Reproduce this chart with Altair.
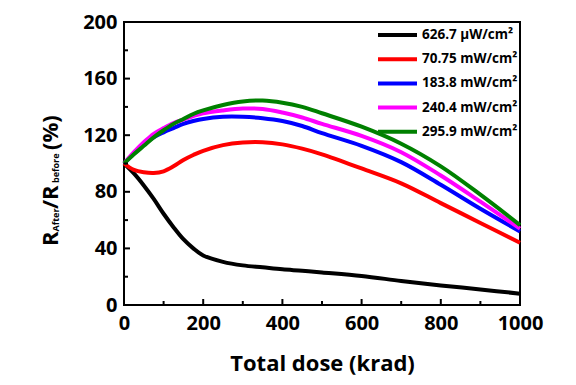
import altair as alt
import pandas as pd

# ---- data ----
dose = [0, 25, 50, 75, 100, 125, 150, 175, 200, 250, 300, 350, 400, 450, 500, 600, 700, 800, 900, 1000]

series_names = ["626.7 μW/cm²", "70.75 mW/cm²", "183.8 mW/cm²", "240.4 mW/cm²", "295.9 mW/cm²"]
series_colors = ["#000000", "#ff0000", "#0000ff", "#ff00ff", "#008000"]

black_vals = [100, 93, 84.5, 75, 64.5, 55, 46.5, 40, 35, 30.5, 28, 26.6, 25.2, 24.2, 23, 20.5, 17, 13.8, 11, 8]
red_vals = [100, 95.5, 93.8, 93.3, 94.5, 98, 102.5, 106, 109, 113, 114.8, 115, 113.5, 110.5, 106.5, 96.5, 86, 72, 58, 44]
blue_vals = [100, 107, 113.5, 118.5, 122, 125, 128, 130, 131.5, 133, 133, 132, 130, 126.5, 121.5, 112.5, 101, 85, 68, 52]
magenta_vals = [100, 108, 115, 121, 125, 128.5, 131, 133.5, 135.5, 137.5, 138.8, 138.5, 136, 132.5, 128, 119.5, 108, 91.5, 73, 54]
green_vals = [100, 106.5, 112.5, 118.5, 123.5, 128, 131.5, 135, 137.5, 141.3, 143.8, 144.5, 143, 140, 135.5, 126, 114, 98, 78, 56.5]

x_major = [0, 200, 400, 600, 800, 1000]
x_minor = [100, 300, 500, 700, 900]
y_major = [0, 40, 80, 120, 160, 200]
y_minor = [20, 60, 100, 140, 180]

all_vals = [black_vals, red_vals, blue_vals, magenta_vals, green_vals]
rows = []
for i, (name, vals) in enumerate(zip(series_names, all_vals)):
    for d, v in zip(dose, vals):
        rows.append({"dose": d, "ratio": v, "series": name, "idx": i})
df = pd.DataFrame(rows)

legend_df = pd.DataFrame({"name": series_names, "color": series_colors, "idx": list(range(len(series_names)))})

W, H = 396, 283
FONT = "Open Sans"
xs = alt.Scale(domain=[0, 1000], nice=False)
ys = alt.Scale(domain=[0, 200], nice=False)
x_axis = alt.Axis(values=x_major, title="Total dose (krad)", format="d", labelPadding=8,
                  titlePadding=20, labelFlush=False, labelOverlap=False)
y_axis = alt.Axis(values=y_major, title=None, format="d", labelPadding=7,
                  labelFlush=False, labelOverlap=False)

lines = alt.Chart(df).mark_line(strokeWidth=4, interpolate="catmull-rom").encode(
    x=alt.X("dose:Q", scale=xs, axis=x_axis),
    y=alt.Y("ratio:Q", scale=ys, axis=y_axis),
    color=alt.Color("series:N", scale=alt.Scale(domain=series_names, range=series_colors), legend=None),
    order=alt.Order("idx:Q"),
)

def xticks(vals, length):
    return alt.Chart(pd.DataFrame({"dose": vals})).mark_rule(color="black", strokeWidth=2).encode(
        x=alt.X("dose:Q", scale=xs, axis=x_axis), y=alt.value(H), y2=alt.value(H - length))

def yticks(vals, length):
    return alt.Chart(pd.DataFrame({"ratio": vals})).mark_rule(color="black", strokeWidth=2).encode(
        y=alt.Y("ratio:Q", scale=ys, axis=y_axis), x=alt.value(0), x2=alt.value(length))

leg_base = alt.Chart(legend_df).transform_calculate(ly="13 + 24.2 * datum.idx")
leg_lines = leg_base.mark_rule(strokeWidth=4).encode(
    x=alt.value(254), x2=alt.value(293),
    y=alt.Y("ly:Q", scale=None),
    color=alt.Color("color:N", scale=None),
)
leg_text = leg_base.mark_text(align="left", baseline="middle", font=FONT, fontSize=13.5,
                              fontWeight="bold", color="black").encode(
    x=alt.value(298), y=alt.Y("ly:Q", scale=None), text="name:N")

one = pd.DataFrame({"a": [0]})
def ytitle(txt, ypos, size, xpos):
    return alt.Chart(one).mark_text(angle=270, align="left", baseline="alphabetic", font=FONT,
                                    fontSize=size, fontWeight="bold", color="black").encode(
        x=alt.value(xpos), y=alt.value(ypos), text=alt.value(txt))

title_layers = [
    ytitle("R", 224, 22, -66),
    ytitle("After", 209.5, 9, -65),
    ytitle("/R", 187, 22, -66),
    ytitle("before", 161, 9, -65),
    ytitle("(%)", 128, 22, -66),
]

chart = alt.layer(
    lines,
    xticks(x_major, 6), xticks(x_minor, 4),
    yticks(y_major, 6), yticks(y_minor, 4),
    leg_lines, leg_text,
    *title_layers,
).properties(
    width=W, height=H,
    autosize=alt.AutoSizeParams(type="none"),
    padding={"left": 124, "top": 22, "right": 56, "bottom": 80},
    background="white",
).configure_view(
    stroke="black", strokeWidth=2
).configure_axis(
    domain=False, ticks=False, grid=False,
    labelFont=FONT, labelFontSize=20, labelFontWeight="bold", labelColor="black",
    titleFont=FONT, titleFontSize=22, titleFontWeight="bold", titleColor="black",
)

chart.save("out.html", embed_options={"renderer": "svg", "actions": False})
